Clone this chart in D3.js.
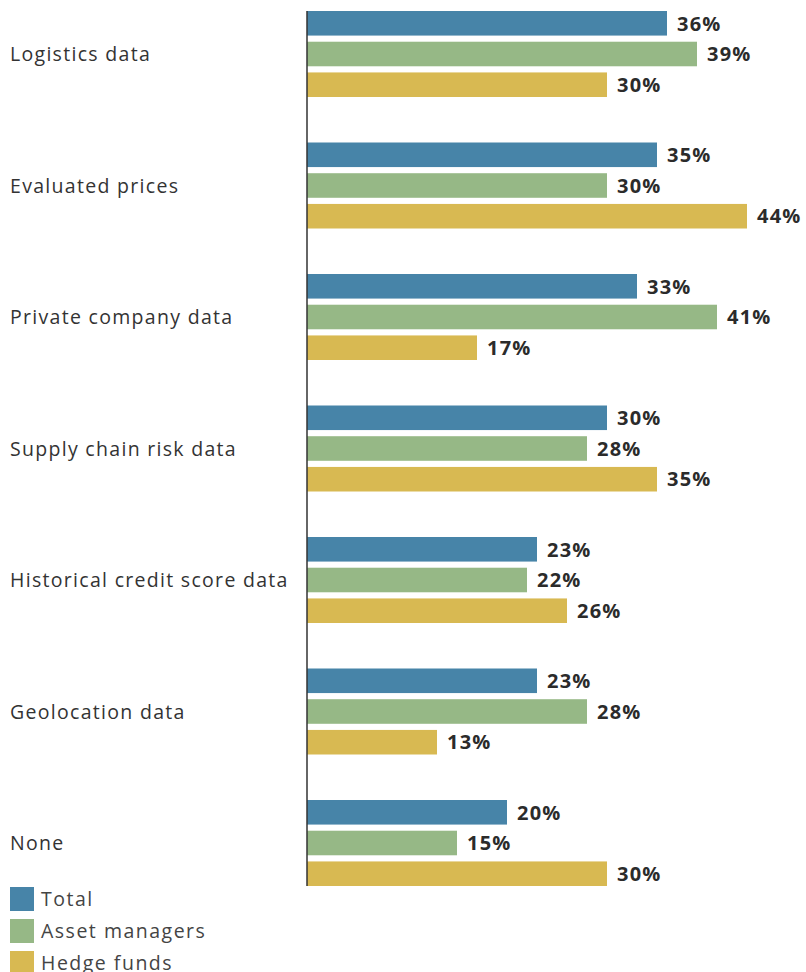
<!DOCTYPE html>
<html>
<head>
<meta charset="utf-8">
<script src="https://cdn.jsdelivr.net/npm/d3@7"></script>
<style>
  body { margin: 0; background: #fff; }
  text { font-family: "Open Sans", sans-serif; }
</style>
</head>
<body>
<div id="chart"></div>
<script>
// data
var categories = ["Logistics data", "Evaluated prices", "Private company data",
  "Supply chain risk data", "Historical credit score data", "Geolocation data", "None"];
var seriesNames = ["Total", "Asset managers", "Hedge funds"];
var total = [36, 35, 33, 30, 23, 23, 20];
var assetManagers = [39, 30, 41, 28, 22, 28, 15];
var hedgeFunds = [30, 44, 17, 35, 26, 13, 30];
var colors = ["#4784a8", "#96b886", "#d8b952"];

var width = 806, height = 972;
var x0 = 307;

var svg = d3.select("#chart").append("svg")
    .attr("width", width)
    .attr("height", height);

var x = d3.scaleLinear().domain([0, 44]).range([x0, x0 + 440]);

var y = d3.scaleBand()
    .domain(categories)
    .range([11, 11 + 131.5 * 7])
    .paddingInner(0)
    .paddingOuter(0);

var yInner = d3.scaleBand()
    .domain(seriesNames)
    .range([0, 86])
    .paddingInner(0.2)
    .paddingOuter(0);

var rows = categories.map(function(c, i) {
  return {cat: c, vals: [total[i], assetManagers[i], hedgeFunds[i]]};
});

var group = svg.selectAll(".grp")
  .data(rows)
  .enter().append("g")
    .attr("class", "grp")
    .attr("transform", function(d) { return "translate(0," + y(d.cat) + ")"; });

group.selectAll("rect")
  .data(function(d) { return d.vals.map(function(v, j) { return {s: seriesNames[j], v: v, j: j}; }); })
  .enter().append("rect")
    .attr("x", x(0))
    .attr("y", function(d) { return yInner(d.s); })
    .attr("width", function(d) { return x(d.v) - x(0); })
    .attr("height", yInner.bandwidth())
    .attr("fill", function(d) { return colors[d.j]; });

group.selectAll(".val")
  .data(function(d) { return d.vals.map(function(v, j) { return {s: seriesNames[j], v: v}; }); })
  .enter().append("text")
    .attr("class", "val")
    .attr("x", function(d) { return x(d.v) + 10; })
    .attr("y", function(d) { return yInner(d.s) + yInner.bandwidth() / 2; })
    .attr("dy", "0.36em")
    .style("font-size", "20px")
    .style("font-weight", "bold")
    .style("letter-spacing", "1.2px")
    .style("fill", "#2b2b2b")
    .text(function(d) { return d.v + "%"; });

group.append("text")
  .attr("x", 10)
  .attr("y", 43)
  .attr("dy", "0.36em")
  .style("font-size", "19.5px")
  .style("letter-spacing", "1.3px")
  .style("fill", "#333")
  .text(function(d) { return d.cat; });

// axis line
svg.append("line")
  .attr("x1", x0).attr("x2", x0)
  .attr("y1", 11).attr("y2", y(categories[6]) + 86)
  .attr("stroke", "#333")
  .attr("stroke-width", 1.5);

// legend
var legend = svg.selectAll(".leg")
  .data(seriesNames)
  .enter().append("g")
    .attr("class", "leg")
    .attr("transform", function(d, i) { return "translate(10," + (887 + i * 32) + ")"; });

legend.append("rect")
  .attr("width", 24).attr("height", 24)
  .attr("fill", function(d, i) { return colors[i]; });

legend.append("text")
  .attr("x", 31)
  .attr("y", 12)
  .attr("dy", "0.36em")
  .style("font-size", "19.5px")
  .style("letter-spacing", "1.5px")
  .style("fill", "#444")
  .text(function(d) { return d; });
</script>
</body>
</html>
